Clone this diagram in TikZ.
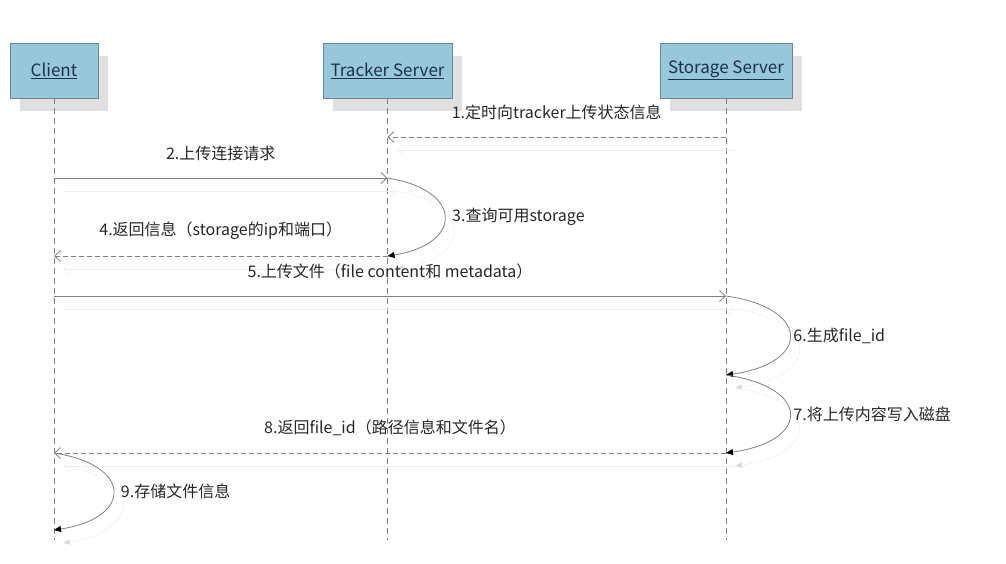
\documentclass[tikz,border=0pt]{standalone}
\usepackage{fontspec}
\setmainfont{Noto Sans CJK SC}
\usetikzlibrary{positioning, arrows.meta, shadows}
\definecolor{boxblue}{RGB}{150,199,219}
\definecolor{boxline}{RGB}{105,135,155}
\definecolor{labelnavy}{RGB}{30,48,78}
\definecolor{msggray}{RGB}{128,128,128}

\begin{document}
\begin{tikzpicture}[
    x=1pt, y=-1pt,
    font=\fontsize{16}{19}\selectfont,
    actor/.style={rectangle, draw=boxline, fill=boxblue, minimum height=55pt, inner sep=0pt, text=labelnavy,
        font=\fontsize{17}{20}\selectfont,
        drop shadow={shadow xshift=10pt, shadow yshift=-13pt, fill=black!12, opacity=1}},
    lifeline/.style={draw=msggray, line width=0.7pt, dash pattern=on 6pt off 4pt},
    echo/.style={preaction={draw=black!7, transform canvas={shift={(9pt,-13pt)}}}},
    selfecho/.style={preaction={draw=black!8, -{Triangle[length=7pt,width=6pt,color=black!15]},
        transform canvas={shift={(9pt,-13pt)}}}},
    call/.style={draw=msggray, line width=0.8pt, -{Straight Barb[length=6pt,width=11pt]}, echo},
    reply/.style={call, dash pattern=on 5pt off 3pt},
    selfcall/.style={draw=msggray, line width=0.8pt, -{Triangle[length=7pt,width=6pt,color=black]}, selfecho},
    msglabel/.style={midway, yshift=25pt, text=black!85},
    selflabel/.style={midway, text=black!85}
]
\useasboundingbox (0,0) rectangle (1006,563);

% actors
\node[actor, minimum width=88pt] (client) at (54,70.5) {\underline{Client}};
\node[actor, minimum width=129pt] (tracker) at (387.5,70.5) {\underline{Tracker Server}};
\node[actor, minimum width=132pt] (storage) at (726,70.5) {\underline{Storage Server}};

% lifelines
\coordinate (clientend) at (54,540);
\coordinate (trackerend) at (387.5,540);
\coordinate (storageend) at (726,540);
\draw[lifeline] (client) -- (clientend);
\draw[lifeline] (tracker) -- (trackerend);
\draw[lifeline] (storage) -- (storageend);

% message points
\coordinate (s1) at (726,137);
\coordinate (t1) at (387.5,137);
\coordinate (c2) at (54,178);
\coordinate (t2) at (387.5,178);
\coordinate (t4) at (387.5,256);
\coordinate (c4) at (54,256);
\coordinate (c5) at (54,296);
\coordinate (s5) at (726,296);
\coordinate (s6) at (726,375);
\coordinate (s8) at (726,453);
\coordinate (c8) at (54,453);
\coordinate (c9) at (54,530);

% messages
\draw[reply] (s1) -- node[msglabel] {1.定时向tracker上传状态信息} (t1);
\draw[call] (c2) -- node[msglabel] {2.上传连接请求} (t2);
\draw[selfcall] (t2) .. controls +(76,12) and +(76,-12) .. (t4) node[selflabel, right=4pt] {3.查询可用storage};
\draw[reply] (t4) -- node[msglabel] {4.返回信息（storage的ip和端口）} (c4);
\draw[call] (c5) -- node[msglabel] {5.上传文件（file content和 metadata）} (s5);
\draw[selfcall] (s5) .. controls +(85,12) and +(85,-12) .. (s6) node[selflabel, right=0pt] {6.生成file\_id};
\draw[selfcall] (s6) .. controls +(85,12) and +(85,-12) .. (s8) node[selflabel, right=0pt] {7.将上传内容写入磁盘};
\draw[reply] (s8) -- node[msglabel] {8.返回file\_id（路径信息和文件名）} (c8);
\draw[selfcall] (c8) .. controls +(79,12) and +(79,-12) .. (c9) node[selflabel, right=4pt] {9.存储文件信息};
\end{tikzpicture}
\end{document}
